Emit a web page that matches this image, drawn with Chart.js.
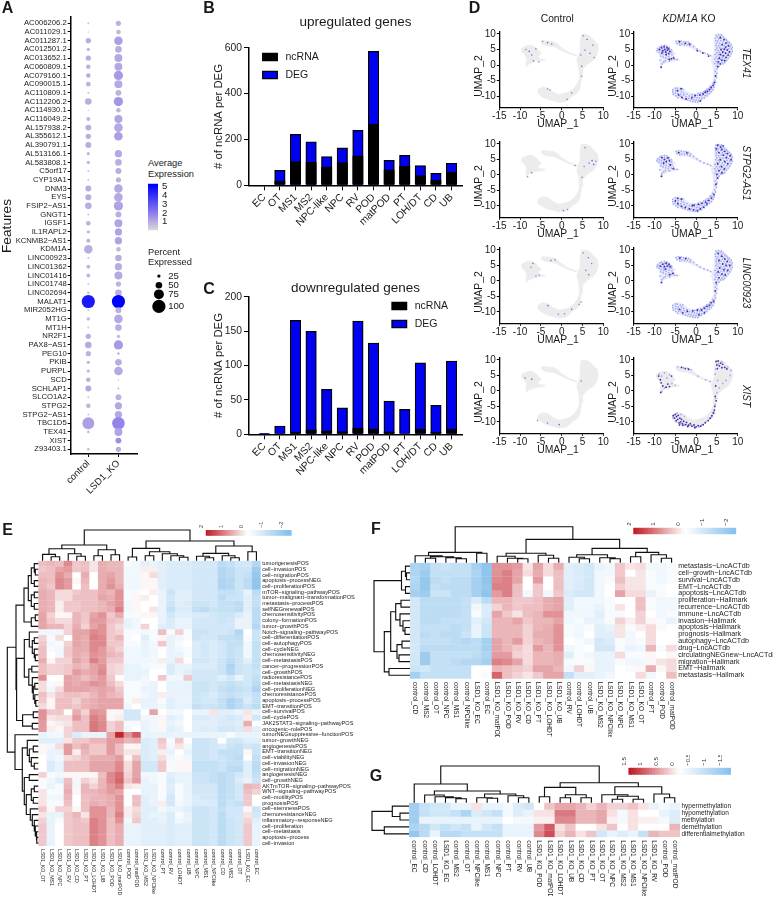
<!DOCTYPE html>
<html>
<head>
<meta charset="utf-8">
<title>KDM1A knockout lncRNA expression panels</title>
<script src="https://cdn.jsdelivr.net/npm/chart.js@4"></script>
<style>
  html, body { margin: 0; padding: 0; background: #fff; }
  #page { position: relative; width: 773px; height: 900px; overflow: hidden; font-family: "Liberation Sans", Arial, sans-serif; color: #1a1a1a; }
  #page canvas { position: absolute; display: block; }
  .lbl { position: absolute; white-space: nowrap; line-height: 1; }
</style>
</head>
<body>
<div id="page"></div>
<script>
// ---------- Panel A: dot plot ----------
const genes = ["AC006206.2","AC011029.1","AC011287.1","AC012501.2","AC013652.1","AC060809.1","AC079160.1","AC090015.1","AC110809.1","AC112206.2","AC114930.1","AC116049.2","AL157938.2","AL355612.1","AL390791.1","AL513166.1","AL583808.1","C5orf17","CYP19A1","DNM3","EYS","FSIP2−AS1","GNGT1","IGSF1","IL1RAPL2","KCNMB2−AS1","KDM1A","LINC00923","LINC01362","LINC01416","LINC01748","LINC02694","MALAT1","MIR2052HG","MT1G","MT1H","NR2F1","PAX8−AS1","PEG10","PKIB","PURPL","SCD","SCHLAP1","SLCO1A2","STPG2","STPG2−AS1","TBC1D5","TEX41","XIST","Z93403.1"];
const dotGroups = ["control","LSD1_KO"];
const controlPct = [15,10,40,25,40,35,35,35,15,50,10,30,45,40,45,25,25,15,15,45,45,50,15,35,25,30,65,15,30,30,15,20,100,15,25,15,40,50,40,25,25,35,45,15,35,15,90,20,5,20];
const koPct = [40,35,65,50,60,60,70,60,45,70,35,60,65,65,5,55,50,45,40,65,65,70,45,60,55,55,35,50,55,60,40,50,100,45,65,50,25,70,20,50,65,10,15,45,55,55,95,60,45,40];
const controlExpr = [.4,.3,.8,.6,.8,.7,.8,.7,.4,.8,.3,.7,.8,.8,.8,.6,.6,.4,.4,.8,.8,.8,.4,.7,.6,.7,.8,.4,.6,.6,.4,.5,4.4,.4,.6,.4,.8,.9,.7,.6,.6,.7,.9,.4,.6,.4,1.1,.5,.3,.5];
const koExpr = [.7,.6,1.1,.8,.9,.9,1.2,.9,.7,1.3,.6,1,.9,1.1,.3,.9,.8,.8,.7,.9,.9,1,.8,1,1,1,.6,.8,.8,.9,.7,.8,5,.8,.9,.8,.6,1.2,.6,.8,.9,.5,.6,.7,.9,.9,1.7,1,1.5,.8];
const sizeLegendPct = [25,50,75,100];
const exprLegendTicks = [1,2,3,4,5];

// ---------- Panels B and C: stacked counts ----------
const cellTypes = ["EC","OT","MS1","MS2","NPC-like","NPC","RV","POD","matPOD","PT","LOH/DT","CD","UB"];
const upDEG   = [0,65,222,190,125,163,240,584,109,131,86,52,96];
const upNcRNA = [0,18,103,100,81,99,129,266,67,84,42,23,58];
const downDEG   = [1.5,12,165.6,149.6,65.4,38.3,164.6,132.7,48.4,36.3,104,42,106.5];
const downNcRNA = [0.5,1,3,6.5,5,4,9,7.5,3.5,1,7.5,3,7.7];

// ---------- Panel D: UMAP cell map, outlines of the clusters ----------
const umapRightArc = [4.7,9.8,5.8,10,6.8,9.3,7.6,8.2,8.6,6.8,8.8,5,8.4,3,7.6,1.5,6.6,.6,5.6,-.5,5,-1.5,5,-3.5,4.7,-4.8,4.6,-5.5,4.4,-7.5,3.7,-9,2.5,-10,1.8,-11,.8,-11.8,-.6,-12,-2,-11.5,-3.5,-11,-5,-10,-5.8,-9,-5.6,-7.6,-4.4,-7,-3.2,-7.4,-2.2,-8.5,-.8,-9.4,.4,-9.2,1.8,-8.6,3,-7.4,3.7,-6,4.2,-4.5,4.2,-2,4,0,3.6,1.5,4,3,4.5,5,4.4,7.5,4.7,9.8];
const umapTopStrand = [-4.8,8,-3.8,7.8,-2,7.6,-1,6.8,.2,5.4,1.6,4.2,3.6,3.2,3.6,2.8,1.4,3.8,-.2,4.8,-1.8,5.9,-3,6,-4.2,6.4,-4.9,7,-4.8,8];
const umapLeftBlob = [-9.6,5.4,-8.5,6.2,-7.2,6.4,-6.2,5.6,-5.5,4.5,-4.9,3.6,-5.8,2.8,-5.2,2,-3.8,1.8,-4.6,1.4,-6,1.2,-7,.8,-8,.2,-8.4,-.6,-8.6,.4,-8.4,2.2,-9,3.6,-9.6,4.2,-9.6,5.4];

// Low-expression KO cells shared by the TEX41, STPG2-AS1 and LINC00923 maps
const koCells = [4.8,9.6,5.4,9.8,6.1,9.7,5.1,9.1,5.8,9.2,6.5,9,4.6,8.7,5.4,8.5,6.1,8.6,6.9,8.4,7.3,8,4.7,7.9,5.2,7.7,5.9,7.9,6.6,7.7,7.6,7.5,8,7.2,4.9,7.1,5.6,7,6.3,7.1,7,6.9,7.7,6.8,8.4,6.6,4.8,6.3,5.4,6.2,6,6.4,6.7,6.2,7.4,6.1,8.1,6,8.7,5.8,5,5.5,5.7,5.6,6.4,5.4,7.1,5.5,7.8,5.3,8.5,5.2,4.7,4.9,5.3,4.7,6,4.8,6.7,4.6,7.4,4.7,8.1,4.5,8.7,4.4,5,4,5.6,4.1,6.3,3.9,7,3.9,7.7,3.7,8.4,3.7,4.6,3.4,5.3,3.3,6,3.2,6.7,3.1,7.4,3,8.1,2.9,4.9,2.6,5.6,2.6,6.3,2.4,7,2.3,7.7,2.2,4.5,2,5.2,1.9,5.9,1.8,6.6,1.6,7.3,1.5,4.8,1.2,5.5,1.1,6.2,1,6.9,.8,4.5,.5,5.2,.4,5.9,.3,6.5,.4,4.9,-.3,5.5,-.4,5,-1.2,4.6,-2,5,-2.6,4.6,-3.4,4.9,-4,4.5,-4.8,4.7,-5.5,
  4.4,-6.2,4,-6,4.3,-7.1,3.8,-6.9,3.4,-6.8,4.1,-7.9,3.6,-7.7,3.1,-7.5,2.6,-7.7,3.7,-8.6,3.2,-8.4,2.7,-8.3,2.2,-8.2,1.8,-8.5,3.2,-9.2,2.7,-9.1,2.2,-9,1.6,-9.1,1.1,-8.9,.5,-9.1,2.6,-9.9,2.1,-9.8,1.5,-9.8,.9,-9.7,.3,-9.7,-.3,-9.5,-.9,-9.5,2,-10.6,1.4,-10.6,.8,-10.5,.2,-10.5,-.4,-10.3,-1,-10.2,-1.6,-9.9,-2.2,-9.3,1.2,-11.2,.6,-11.3,0,-11.2,-.6,-11.1,-1.2,-10.9,-1.8,-10.7,-2.4,-10.2,-2.9,-9.6,-3,-8.9,.4,-11.9,-.2,-11.8,-.8,-11.7,-1.4,-11.5,-2,-11.3,-2.6,-11,-3.2,-10.7,-3.6,-10,-3.7,-9.3,-3.5,-8.5,-3.8,-7.8,-3.2,-7.7,-4.4,-10.5,-4.2,-9.8,-4.4,-9.1,-4.3,-8.4,-4.5,-7.5,-5,-7.4,-4.9,-8.2,-5,-9,-4.9,-9.9,-5.5,-9.4,-5.6,-8.6,-5.6,-7.9,
  -9.4,4.6,-9.2,5.2,-8.7,5.8,-8.8,4.9,-8.9,4.1,-8.3,6.1,-8.2,5.3,-8.3,4.5,-8.4,3.7,-8.5,2.9,-7.6,6.3,-7.6,5.6,-7.7,4.9,-7.8,4.1,-7.8,3.4,-7.9,2.6,-7,6.1,-7,5.4,-7.1,4.6,-7.1,3.9,-7.2,3.1,-7.3,2.3,-6.5,5.7,-6.5,5,-6.4,4.3,-6.5,3.5,-6.6,2.7,-6.7,1.9,-7.4,1.4,-5.9,4.9,-5.9,4.1,-5.8,3.3,-6,2.2,-5.4,2.6,-5.2,1.9,-4.6,1.8,-6.4,1.3,-7.8,1,-8.2,.4,-8.4,-.6,-8.7,1.6,
  -4.8,7.6,-4.2,7.8,-3.6,7.7,-3,7.5,-2.4,7.5,-1.8,7.3,-1.3,6.8,-4.6,6.9,-4,7.1,-3.4,6.8,-2.8,6.6,-2.1,6.6,-3.9,6.4,-1.5,6.2,-.6,6,.2,5.2,1,4.5,1.9,3.9,2.8,3.5,3.5,3];

// Expressing cells per gene and condition
const tex41Ko = [-8.8,5,-8.3,5.6,-8,4.6,-7.7,5.9,-7.5,5,-7.3,4.2,-7,5.6,-6.9,4.8,-6.6,5.2,-6.3,4.4,-6.6,3.7,-7.2,3.4,-8.2,3.9,-5.9,2,-5.4,2.3,-6.4,1.8,-8.4,-.7,-4,7.5,-2.6,7,-1.6,6.7,5.8,8.8,6.7,8.2,7.2,7.1,7.8,6.2,6.3,6.6,7.1,5.8,6,5,6.8,5.1,7.5,4.9,8,4.2,6.4,4.2,7.1,3.8,7.7,3.2,5.8,3.4,6.5,3,7.2,2.5,5.6,2.2,6.2,1.6,6.9,1.4,5.3,1,5.8,.4,5.2,-.5,4.7,-3.5,4.4,-5.6,4.1,-6.5,3.6,-7.2,3.2,-7.9,2.7,-8.5,2.2,-8.7,1.7,-9.3,.9,-9.6,-.2,-9.8,-1,-10.5,-2.4,-10.9,-3.4,-10.4,-4.2,-9.6,-4.5,-8.2,-3.6,-7.6,1,-11.6,3,2.9,1.6,3.9,.3,4.6];
const stpg2Ko = [-8.2,5.6,-7.6,5,-7.2,4.3,-6.8,5.5,-6.4,4.6,-7.8,3.8,-6.2,3.2,-5.5,2,-8.3,-.4,-4.2,7.2,-2.2,7.1,5.2,9.6,5.9,9,6.5,9.4,4.9,8.4,6.2,8.2,6.9,7.6,7.5,6.9,8.2,6.2,5.5,7.2,6.5,6.4,7.3,5.6,8.4,4.9,5.8,4.9,6.9,4.3,7.6,3.6,5.2,3.6,6.1,2.7,6.8,1.9,5.5,1.4,6.2,.7,5,.2,5.2,-1,4.8,-3,4.3,-6.4,3.7,-7.5,3,-8.2,2.3,-8.8,1.4,-9.2,.6,-9.5,-.5,-9.8,1.8,-10.4,1,-11,.3,-11.6,-.6,-11.3,-1.6,-11,-2.6,-10.5,-3.5,-10.2,-4.4,-9.3,-5,-8.4,-4.4,-7.6,-3.5,-7.8,2.6,-9.4,-.9,-9.9];
const linc00923Ko = [-8.6,4.8,-8,5.4,-7.6,4.6,-7.2,5.7,-6.9,4.8,-6.5,5.3,-6.2,4.6,-7.4,3.8,-6.3,2,-5.6,2.4,-8.3,-.5,-3.9,7.4,-2.5,7.2,5.3,8.9,6.2,8,6.9,7.1,5.5,6.6,7.5,6.3,6.4,5.5,7.2,5,8.1,5,5.7,4.2,6.7,3.6,7.6,3.4,5.3,2.9,6.2,2.2,7,1.9,5.5,1,4.8,-.6,4.6,-3.2,4.2,-6.6,3.6,-7.1,3.2,-7.9,2.6,-8.2,2,-8.8,1.3,-9.4,.3,-9.4,-.8,-9.7,-2.1,-9.8,-3.2,-10.3,-4,-9.2,2,-10.3,.7,-10.9];
const xistKo = [-5.5,-8,-5.2,-8.8,-5,-7.6,-4.7,-8.3,-4.4,-9.2,-4.8,-9.6,-4.3,-7.9,-3.9,-8.8,-3.7,-10,-4.1,-10.3,-3.3,-10.6,-3,-9.8,-3.5,-9.2,-2.5,-10.9,-2.3,-10.2,-1.8,-11.1,-1.4,-10.6,-1,-11.4,-.5,-11,0,-11.6,.5,-11.2,1.1,-11.4,1.7,-10.9,2.2,-10.3,2.9,-9.6,3.4,-8.8,3.8,-8,4.2,-7.2,4.4,-6.2,4.5,-5,4.8,-3.2,-4,-11,-3.2,-11.1,-2,-11.5,-.3,-11.9,4.8,9.5,5.3,9.7,5.9,9,5,8.4,5.6,8.1,6.4,8.6,6.9,7.6,7.4,7.1,5.1,7.2,6.2,7.5,-3.5,7.6,-2.6,7.2,-1.8,7,-8.6,3.6,-8.4,2.6,-8,1.6,-7.2,1.2,-6.8,2.2,-6.4,1.4,-8.5,-.5,-5.9,4.8,-9,4.8,4.7,1.6,4.6,-1.8];
const xistKoLow = [-5.4,-7.9,-4.6,-7.2,-3.6,-7.6,-2.8,-8.2,-5.6,-8.6,-4.8,-10,-3.8,-10.6,-2.8,-10.9,-1.2,-11,-.4,-11.5,.7,-11.6,1.4,-11,2.4,-9.9,3.2,-9,3.7,-8.4,4,-7,4.3,-6.6,4.6,-4.4,4.7,-2.4,5,-.6,5.6,1,6.4,2.4,7.2,3.4,8.2,5,8.4,6.6,7.6,7.8,5.4,8.8,6.2,9.4,4.7,7,4.6,5.4,5.2,3.4,-4.4,7.8,-3,7.5,-2,7.3,-1.2,6.8,.4,4.8,2.3,3.6,3.4,3,-8.9,5.4,-8.3,4.8,-7.6,5.8,-7,4.2,-6.4,5.2,-5.8,2.4,-5,1.9,-7.6,.9,-8.2,-.2];
const tex41Control = [-8.6,5,-7.8,4.4,-7.2,3.2,-6.2,5.2,-6.8,1.3,-5.5,1,-4.6,7.6,-3.4,7.2,-2.4,6.8,5.2,9.4,6.1,8.2,7.5,6.4,5.6,4.8,6.8,3.8,4.6,3.2,7.8,2.4,4.8,-.4,-3.4,-7.7,-2.8,-8,1.3,-11,2.4,-9,4.8,-3.6];
const stpg2Control = [5.6,8.8,7.3,4.6,8.2,4.4,6.6,3.8,7.7,3.4,5.4,2.7,-8.2,-.6,-7.2,.7,4.9,-.8,1.4,-11.2,.4,-11.5,3.2,3];
const linc00923Control = [-7.4,4.4,-6.9,5.6,-6.2,1.6,-5.4,1.9,-2.6,6.6,-1.6,6.8,5.2,9,6.4,7.5,7.2,5.6,5.8,3.4,6.5,2,4.7,-6.8,4.2,-7.6,2.4,-9.2,.7,-10.6,-.8,-10.8,-3.3,-8];
const xistControl = [-8.8,4.2,-7.2,3.8,-5.8,-9.6,-3.4,-10.4,-.6,-10.9,4.7,3.2];

// ---------- Panel E: pathway heat map (cell values in twelfths of a z-score) ----------
const eColumns = ["LSD1_KO_OT","LSD1_KO_MS1","LSD1_KO_NPC","LSD1_KO_RV","LSD1_KO_CD","LSD1_KO_PT","LSD1_KO_LOHDT","LSD1_KO_UB","LSD1_KO_POD","LSD1_KO_matPOD","control_POD","control_matPOD","LSD1_KO_MS2","LSD1_KO_NPClike","control_PT","control_RV","control_LOHDT","control_UB","control_NPC","control_MS1","control_NPClike","control_CD","control_MS2","control_OT","LSD1_KO_EC","control_EC"];
const eRows = ["tumorigenesisPOS","cell−invasionPOS","cell−migrationPOS","apoptosis−processNEG","cell−proliferationPOS","mTOR−signaling−pathwayPOS","tumor−malignant−transformationPOS","metastasis−processPOS","selfNEGrenewalPOS","chemosensitivityPOS","colony−formationPOS","tumor−growthPOS","Notch−signaling−pathwayPOS","cell−differentiationPOS","cell−autophagyPOS","cell−cycleNEG","chemosensitivityNEG","cell−metastasisPOS","cancer−progressionPOS","cell−growthPOS","radioresistancePOS","cell−metastasisNEG","cell−proliferationNEG","chemoresistancePOS","apoptosis−processPOS","EMT−transitionPOS","cell−survivalPOS","cell−cyclePOS","JAK2STAT3−signaling−pathwayPOS","oncogenic−rolePOS","tumorNEGsuppressive−functionPOS","tumor−growthNEG","angiogenesisPOS","EMT−transitionNEG","cell−viabilityNEG","cell−invasionNEG","cell−migrationNEG","angiogenesisNEG","cell−growthNEG","AKTmTOR−signaling−pathwayPOS","WNT−signaling−pathwayPOS","cell−motilityPOS","prognosisPOS","cell−stemnessPOS","chemoresistanceNEG","inflammatory−responseNEG","cell−proliferation","cell−metastasis","apoptosis−process","cell−invasion"];
const eCells = [
[7,8,7,13,6,7,3,9,8,8,-1,-2,-4,-3,-4,-5,-5,-5,-6,-6,-6,-9,-8,-6,-6,-10],
[6,7,10,11,6,7,3,9,8,8,-2,-2,2,2,-4,-5,-5,-5,-6,-6,-6,-10,-9,-7,-7,-13],
[7,7,12,9,0,9,0,9,10,8,-2,-2,1,4,-4,-5,-5,-5,-6,-6,-6,-10,-9,-7,-8,-14],
[8,7,13,11,1,8,0,9,11,8,-2,-2,1,1,-4,-5,-5,-5,-6,-6,-6,-11,-10,-7,-9,-15],
[8,6,13,11,0,7,0,9,12,9,-2,-2,1,1,-4,-5,-5,-5,-6,-6,-6,-11,-10,-7,-9,-15],
[9,8,4,4,6,7,7,9,8,12,-1,-1,0,2,-3,-7,-4,-4,-6,-6,-6,-8,-8,-7,-3,-9],
[9,8,4,4,7,7,7,10,9,12,-1,1,2,0,-3,-6,-4,-4,-6,-6,-6,-9,-7,-7,-4,-8],
[9,8,2,6,6,7,7,8,10,12,-2,1,0,0,-3,-7,-4,-5,-7,-7,-6,-8,-8,-9,-4,-8],
[9,8,2,6,6,7,7,8,9,14,-2,1,0,3,-3,-8,-5,-5,-8,-9,-7,-8,-8,-9,-4,-9],
[10,5,1,1,8,6,10,12,6,9,-1,-1,1,1,-3,-6,-4,-4,-5,-5,-6,-7,-7,-5,-3,-9],
[10,6,4,4,8,6,11,11,7,6,-3,-2,0,0,-3,-5,-3,-3,-6,-6,-6,-7,-6,-3,-3,-9],
[10,8,8,5,9,5,10,12,6,4,-3,-2,5,0,-4,-5,-3,-3,-6,-6,-6,-6,-6,-3,-3,-10],
[-2,-2,-2,5,10,10,13,12,6,5,-1,-1,-2,-1,7,-1,5,-1,-7,-7,-6,-6,-7,-10,0,-7],
[5,-1,4,0,10,9,14,13,6,8,-1,0,-4,-1,1,-3,-2,-1,-7,-6,-6,-8,-8,-9,-1,-7],
[6,-2,-1,5,10,9,13,13,6,6,-1,-1,-3,-2,6,-3,-1,0,-5,-6,-5,-6,-8,-8,-2,-8],
[7,-1,-2,6,9,9,13,11,7,5,-2,-2,-3,-2,0,-3,-2,-1,-5,-6,-5,-6,-8,-7,-2,-8],
[7,0,-2,6,9,8,12,11,8,7,-2,-2,-3,-2,0,-3,-3,-1,-5,-6,-5,-6,-8,-7,-2,-8],
[9,1,5,5,10,8,14,11,6,6,-2,-2,-2,-2,2,-3,4,0,-6,-6,-5,-7,-9,-7,-4,-8],
[7,5,5,6,8,7,10,12,5,4,-3,-3,-2,-1,-1,-5,-3,-3,-5,-5,-5,-7,-11,-7,-6,-8],
[7,5,5,6,11,9,10,13,5,4,-3,-3,-3,0,0,-5,-3,-4,-6,-6,-6,-7,-10,-7,-6,-7],
[12,0,0,10,9,7,9,11,6,0,-3,-3,-2,0,6,-2,-2,6,-6,-6,-6,-4,-6,-3,-6,-8],
[4,-1,1,10,9,10,12,11,7,4,-1,-1,-2,-3,0,-3,-3,-3,-7,-7,-6,-7,-8,-7,-6,-9],
[4,-2,4,10,10,10,9,10,9,6,-1,-1,-3,-3,0,-3,-3,-3,-7,-7,-6,-8,-9,-8,-7,-11],
[7,3,6,7,7,6,8,10,8,7,-1,-1,-2,-3,2,-3,-3,-3,-7,-6,-5,-7,-8,-7,-6,-8],
[6,1,7,7,5,8,9,10,10,10,-1,2,-3,-3,-1,-4,-3,-3,-7,-6,-6,-8,-11,-9,-5,-8],
[4,1,7,7,6,8,9,10,10,10,-2,0,-3,-3,-2,-4,-3,-3,-8,-7,-7,-8,-11,-9,-7,-9],
[12,6,6,0,9,5,12,11,1,1,-6,-6,0,10,0,-2,-2,0,-3,-3,3,-4,-4,-3,3,-3],
[12,3,4,4,11,7,14,12,1,2,-6,-6,-2,-2,1,-4,-3,0,-5,-5,-4,-5,-6,-5,2,-6],
[11,1,2,3,7,7,15,13,5,7,-1,-1,-3,-2,1,-3,-2,0,-4,-4,-4,-5,-5,-4,9,0],
[11,2,1,5,7,7,15,13,5,7,-2,0,-3,-2,1,-4,-3,0,-4,-5,-4,-6,-6,-5,4,-4],
[-3,-2,-2,5,-5,-3,-3,-3,10,24,12,18,-3,-3,-3,-3,-3,-3,-3,-3,-3,-3,-1,-3,-3,-3],
[-4,-4,-4,3,6,6,8,8,11,11,8,9,-5,-4,6,-1,6,0,-7,-7,-6,0,-6,-6,-4,-4],
[1,-2,4,11,7,9,6,6,11,7,1,1,-5,-4,5,-2,3,-2,-7,-7,-6,-5,-7,-8,-6,-7],
[1,-3,-3,11,2,8,6,6,11,7,3,3,-5,-4,2,-3,0,-3,-7,-7,-6,-8,-8,-8,1,-7],
[0,-3,-2,4,5,7,9,9,9,11,1,7,-5,-4,4,-2,-1,-2,-7,-7,-6,-7,-8,-9,0,-8],
[0,-5,-3,7,7,7,10,10,10,13,4,10,-6,-6,6,-1,1,1,-8,-8,-8,-7,-8,-8,-4,-9],
[0,-5,-3,7,7,7,10,10,10,13,4,10,-6,-6,6,-1,1,1,-8,-8,-8,-7,-9,-9,-4,-9],
[5,-1,-2,1,1,1,1,7,13,16,5,10,-2,-2,-1,-4,-3,-3,-7,-7,-8,-9,-8,-6,-4,-8],
[-1,-2,-4,7,-2,5,3,8,13,17,6,11,-3,-2,-1,-5,-3,-3,-7,-7,-8,-9,-8,-5,-3,-7],
[-1,-3,-1,8,-2,8,5,8,11,14,3,2,-3,-3,-1,-4,-1,-3,-6,-6,-6,-9,-8,-6,8,7],
[3,-1,-1,9,1,8,8,9,11,10,0,0,-3,-3,-1,-5,-1,-3,-6,-6,-6,-9,-8,-6,7,5],
[3,-2,-2,8,0,7,8,8,9,12,0,7,-4,-3,-1,-6,-1,-3,-5,-6,-6,-9,-8,-6,6,0],
[3,-1,-1,7,0,7,9,8,9,12,0,7,-4,-3,2,-6,-2,-3,-5,-5,-5,-9,-7,-8,6,0],
[6,1,5,5,1,7,12,12,8,12,2,4,-4,-4,-2,-3,-3,-4,-7,-7,-6,-8,-6,-6,1,-7],
[3,-3,-3,6,8,3,12,12,8,14,2,5,-4,-3,-3,-5,-1,-3,-7,-7,-6,-9,-6,-6,3,-6],
[5,-3,-1,6,7,6,14,12,7,12,-2,6,-4,-4,-3,-5,-2,-3,-7,-7,-6,-9,-7,-6,5,-4],
[6,-3,0,6,7,7,14,12,7,9,-3,-3,-4,-4,-4,-5,-4,-4,-7,-7,-6,-9,-7,-6,6,-3],
[6,-3,0,6,7,7,14,12,7,9,-3,-3,-4,-4,-4,-5,-4,-4,-7,-7,-6,-9,-7,-6,6,-3],
[6,-3,0,6,7,7,14,12,7,9,-3,-3,-4,-4,-4,-5,-4,-4,-7,-7,-6,-9,-7,-6,6,-3],
[6,-3,0,6,7,7,14,12,7,9,-3,-3,-4,-4,-4,-5,-4,-4,-7,-7,-6,-9,-7,-6,6,-3]
];
// Dendrograms are nested [height, left, right] nodes, leaves are row or column indices
const eColTree = [30.7,
  [15.7,[12,[6.3,0,[4,1,2]],[7,3,[4.5,4,5]]],[11,[5,6,7],[6,8,9]]],
  [19.7,[12.3,[3.7,10,11],[9,[5,12,13],[7,14,[5,15,[3.5,16,17]]]]],[14.7,[7.3,[4.5,18,[3,19,20]],[5,21,[3,22,23]]],[9,24,25]]]];
const eRowTree = [31,
  [22.3,
    [14.3,[10,[7,[4,0,[3,1,2]],[4,3,4]],[7,[4,5,6],[4,7,8]]],[7,[3,9,10],11]],
    [21.7,[14,[9,12,[6,[4,13,14],[4,15,[3,16,17]]]],[9.5,[6.5,18,19],[6,20,[5,[3.5,21,22],[3.5,23,[2.5,24,25]]]]]],[15.7,[5,26,27],[6,28,29]]]],
  [23.3,30,[16,[11,31,[9,[5,32,33],[7,34,[4,35,36]]]],[14,[9,37,38],[12,[7,[4,39,40],[5,41,42]],[8,43,[6,44,[4,45,[3,46,[2,47,[1.5,48,49]]]]]]]]]]];
const eScaleTicks = [2,1,0,-1,-2];

// ---------- Panel F: lncRNA signature heat map (same cell units as E) ----------
const fColumns = ["control_CD","control_MS2","control_OT","control_NPC","control_MS1","control_NPClike","LSD1_KO_EC","control_EC","LSD1_KO_matPOD","LSD1_KO_POD","LSD1_KO_RV","LSD1_KO_CD","LSD1_KO_PT","LSD1_KO_LOHDT","LSD1_KO_UB","control_RV","control_LOHDT","control_UB","LSD1_KO_MS2","LSD1_KO_NPClike","LSD1_KO_NPC","LSD1_KO_MS1","LSD1_KO_OT","control_PT","control_POD","control_matPOD"];
const fRows = ["metastasis−LncACTdb","cell−growth−LncACTdb","survival−LncACTdb","EMT−LncACTdb","apoptosis−LncACTdb","proliferation−Hallmark","recurrence−LncACTdb","immune−LncACTdb","invasion−Hallmark","apoptosis−Hallmark","prognosis−Hallmark","autophagy−LncACTdb","drug−LncACTdb","circulatingNEGnew−LncACTdb","migration−Hallmark","EMT−Hallmark","metastasis−Hallmark"];
const fCells = [
[-11,-12,-8,-7,-8,-8,-12,-15,12,12,11,3,10,4,9,-4,-5,-6,-3,-2,6,3,4,-2,-2,-1],
[-11,-13,-8,-8,-8,-8,-11,-15,12,14,10,4,9,4,7,-4,-5,-6,-2,-2,6,0,3,-1,-2,-1],
[-10,-14,-9,-8,-9,-9,-12,-15,13,14,10,0,11,0,7,-4,-5,-6,-2,-1,7,3,3,-1,-2,-1],
[-11,-14,-8,-9,-9,-9,-12,-14,14,14,7,0,6,0,7,-4,-5,-6,-2,0,5,3,3,-1,-1,0],
[-12,-13,-7,-7,-9,-9,-12,-15,11,14,7,-2,6,-2,6,-5,-6,-6,-2,0,10,4,4,-3,-1,0],
[-6,-9,-9,-9,-9,-8,-5,-9,8,8,6,6,7,9,10,-4,-2,-2,-2,-1,0,0,7,-1,-2,-2],
[-6,-9,-9,-9,-9,-8,-2,-5,5,8,6,7,7,9,10,-4,-2,-2,-3,-1,3,0,7,-1,-2,-2],
[-6,-9,-9,-9,-9,-8,-1,-5,10,6,3,7,8,12,12,-2,-2,-2,-4,-1,-1,0,5,0,-2,-1],
[-6,-9,-9,-8,-8,-8,-4,-6,8,8,10,6,8,8,10,-2,-1,-3,-3,-1,5,2,5,1,-1,-3],
[-6,-8,-8,-8,-9,-8,-3,-7,8,8,8,5,8,9,12,-1,-2,-1,-4,-3,3,-1,2,4,-1,0],
[-6,-9,-8,-9,-9,-7,-3,-7,8,8,8,5,9,9,12,-1,-2,0,-4,-4,3,-2,0,4,0,0],
[-6,-8,-8,-8,-9,-10,-9,-12,10,8,11,5,8,9,12,0,-1,-2,-6,-5,-1,-2,-1,4,0,0],
[-6,-9,-9,-9,-9,-9,-9,-12,10,8,6,4,11,8,12,-2,-1,0,-6,-6,-1,-3,-2,8,-1,4],
[-6,-13,-8,-8,-8,-8,-9,-11,11,11,5,4,8,8,9,-4,-1,-2,-3,-3,4,-1,-1,1,0,1],
[-6,-13,-8,-8,-9,-10,-10,-12,14,13,10,4,8,8,9,-1,-1,-1,-3,-3,-1,-2,-2,1,3,4],
[-7,-6,-8,-8,-8,-8,0,0,8,7,6,5,10,10,8,-2,5,1,-3,-3,0,-1,1,9,1,4],
[-12,-8,-8,-8,-8,-8,0,-1,17,7,5,3,6,10,10,-8,-4,-4,-3,-2,0,0,4,-2,0,7]
];
const fColTree = [36,
  [10.3,[7,0,[6,[4.5,1,2],[5,3,[4,4,5]]]],[9.5,6,7]],
  [23.3,[9.5,[6.5,8,[4.5,9,[4,10,11]]],[7.5,12,[4.5,13,14]]],[14.3,[8,[5.5,15,[4,16,17]],[5,18,[4,19,20]]],[10.3,[6,21,22],[8,23,[4.5,24,25]]]]]];
const fRowTree = [36,
  [8.5,[4.5,0,[3.5,1,2]],[4.5,3,4]],
  [25.7,[19.3,[14.3,[9,5,6],[10,7,[7,8,[5,9,10]]]],[13,[8,11,12],[11,13,14]]],[21,15,16]]];
const fScaleTicks = [2,1,0,-1,-2];

// ---------- Panel G: methylation heat map (cell values in tenths of a z-score) ----------
const gColumns = ["control_EC","control_CD","control_LOHDT","LSD1_KO_EC","control_MS2","control_OT","control_NPClike","control_MS1","control_NPC","control_PT","control_RV","control_UB","LSD1_KO_POD","LSD1_KO_matPOD","LSD1_KO_LOHDT","LSD1_KO_UB","LSD1_KO_CD","LSD1_KO_PT","LSD1_KO_OT","LSD1_KO_NPC","LSD1_KO_MS2","LSD1_KO_MS1","LSD1_KO_NPClike","LSD1_KO_RV","control_POD","control_matPOD"];
const gRows = ["hypermethylation","hypomethylation","methylation","demethylation","differentialmethylation"];
const gCells = [
[-8,-5,-4,-4,-2,-2,2,-2,-2,-1,-3,-4,0,4,6,6,5,3,5,3,3,4,2,-2,-1,-2],
[-8,-5,-4,-4,-5,-7,-3,-4,-5,-1,-3,-2,2,2,9,9,5,5,6,2,-1,2,0,0,-2,-3],
[-8,-2,-2,-2,-2,-2,-2,-2,-2,0,-1,-1,1,1,8,8,5,5,6,1,-1,2,1,1,-1,-3],
[-7,-6,-4,-5,-4,-5,-2,-4,-5,-2,-2,-2,7,11,2,4,0,0,2,4,0,2,0,0,0,5],
[-9,-6,-2,-6,-6,-5,-5,-5,-5,-2,-2,-2,8,12,3,5,2,4,-4,-2,-3,-2,-5,5,4,4]
];
const gColTree = [36.7,
  [18.7,0,[11.7,[7.7,1,[6,2,[5,3,[4,4,5]]]],[8.7,[5,6,[4.5,7,8]],[7,9,[5,10,11]]]]],
  [20,[15.3,[6,12,13],[8,[5,14,15],[5,16,17]]],[16,[8,18,[6.5,[3.5,19,20],[3.5,21,22]]],[8.7,23,[5,24,25]]]]];
const gRowTree = [37,[16.7,0,[9,1,2]],[24.7,3,4]];
const gScaleTicks = [1.5,1,.5,0,-.5,-1,-1.5];

// ---------- Shared drawing helpers ----------
const page = document.getElementById('page');
const FONT = '"Liberation Sans", Arial, sans-serif';
Chart.defaults.font.family = FONT;
Chart.defaults.color = '#1a1a1a';
Chart.defaults.animation = false;
Chart.defaults.plugins.legend.display = false;
Chart.defaults.plugins.tooltip.enabled = false;

function label(text, x, y, o = {}) {
  const el = document.createElement('div');
  el.className = 'lbl';
  el.innerHTML = text;
  el.style.left = x + 'px';
  el.style.top = y + 'px';
  el.style.fontSize = (o.size || 10) + 'px';
  if (o.bold) el.style.fontWeight = 'bold';
  if (o.italic) el.style.fontStyle = 'italic';
  const tx = o.anchor === 'left' ? '0' : '-50%';
  el.style.transform = `translate(${tx},-50%)` + (o.rot ? ` rotate(${o.rot}deg)` : '');
  page.appendChild(el);
}

// Places a chart so that its plot area lands on the given rectangle; margins hold the axes.
function mount(rect, margin, cfg, titleY) {
  const left = Math.floor(rect.x0 - (margin.l || 0));
  const top = Math.floor(rect.y0 - (margin.t || 0));
  const width = Math.ceil(rect.x1 + (margin.r || 0) - left);
  const height = Math.ceil(rect.y1 + (margin.b || 0) - top);
  const m = { left: rect.x0 - left, top: rect.y0 - top, right: left + width - rect.x1, bottom: top + height - rect.y1 };
  const canvas = document.createElement('canvas');
  canvas.width = width;
  canvas.height = height;
  canvas.style.left = left + 'px';
  canvas.style.top = top + 'px';
  page.appendChild(canvas);
  const opts = cfg.options = cfg.options || {};
  opts.responsive = false;
  opts.maintainAspectRatio = false;
  opts.devicePixelRatio = 1;
  const pad = { ...m };
  for (const [id, s] of Object.entries(opts.scales || {})) {
    if (s.display === false) continue;
    const side = s.position || (id[0] === 'x' ? 'bottom' : 'left');
    pad[side] = 0;
    s.afterFit = ax => { if (side === 'left' || side === 'right') ax.width = m[side]; else ax.height = m[side]; };
  }
  const title = opts.plugins && opts.plugins.title;
  if (title && title.display) {
    const lineH = title.font.size * 1.2;
    const pt = titleY - top - lineH / 2;
    title.padding = { top: pt, bottom: m.top - lineH - pt };
    title.fullSize = false;
    pad.top = 0;
  }
  opts.layout = { padding: pad };
  cfg.origin = { left, top };
  return new Chart(canvas, cfg);
}

const axisLine = (w = 1.4) => ({ color: '#000', width: w });
const axisGrid = (len = 4) => ({ drawOnChartArea: false, color: '#000', tickLength: len, lineWidth: 1 });
const noGrid = { display: false, drawTicks: false };
const pairs = flat => { const out = []; for (let i = 0; i < flat.length; i += 2) out.push({ x: flat[i], y: flat[i + 1] }); return out; };
const mixColor = (a, b, t) => `rgb(${a.map((c, i) => Math.round(c + (b[i] - c) * t)).join(',')})`;

// ---------- Panel A ----------
const PCT_TO_RADIUS = 0.066;
function exprColor(v) {
  return v <= 1.25 ? mixColor([214, 214, 214], [168, 150, 232], v / 1.25)
                   : mixColor([168, 150, 232], [0, 0, 255], (v - 1.25) / 3.75);
}
const dotData = (pct, x) => genes.map((g, i) => ({ x, y: i, r: pct[i] * PCT_TO_RADIUS }));
mount({ x0: 70.7, x1: 140, y0: 14, y1: 454 }, { l: 70.7, r: 4, t: 4, b: 46 }, {
  type: 'bubble',
  data: { datasets: [
    { label: dotGroups[0], data: dotData(controlPct, 0), backgroundColor: controlExpr.map(exprColor), borderWidth: 0 },
    { label: dotGroups[1], data: dotData(koPct, 1), backgroundColor: koExpr.map(exprColor), borderWidth: 0 }
  ] },
  options: { scales: {
    x: { type: 'linear', min: -0.585, max: 1.63, border: axisLine(1.5), grid: axisGrid(3),
      afterBuildTicks: s => { s.ticks = dotGroups.map((_, i) => ({ value: i })); },
      ticks: { autoSkip: false, minRotation: 45, maxRotation: 45, padding: 1, font: { size: 9.5 }, callback: v => dotGroups[v] } },
    y: { type: 'linear', reverse: true, min: -0.77, max: 49.54, border: axisLine(1.5), grid: axisGrid(3),
      afterBuildTicks: s => { s.ticks = genes.map((_, i) => ({ value: i })); },
      ticks: { autoSkip: false, padding: 1, font: { size: 7.7 }, color: '#222', callback: v => genes[v] } }
  } }
});
label('Features', 7, 226, { size: 13.7, rot: -90 });
label('Average', 148, 164, { size: 9.3, anchor: 'left' });
label('Expression', 148, 175, { size: 9.3, anchor: 'left' });
label('Percent', 148, 252.7, { size: 9.3, anchor: 'left' });
label('Expressed', 148, 263.3, { size: 9.3, anchor: 'left' });

const exprSteps = [];
for (let v = 0; v < 5.3; v += 0.2) exprSteps.push(v);
mount({ x0: 148, x1: 158, y0: 182, y1: 232 }, { r: 16, t: 8, b: 8 }, {
  type: 'bar',
  data: { labels: ['expr'], datasets: exprSteps.map(v => ({ data: [[v, v + 0.22]], backgroundColor: exprColor(v), barPercentage: 1, categoryPercentage: 1, grouped: false })) },
  options: { scales: {
    x: { display: false },
    y: { position: 'right', min: 0.05, max: 5.3, border: { display: false }, grid: noGrid,
      afterBuildTicks: s => { s.ticks = exprLegendTicks.map(v => ({ value: v })); },
      ticks: { autoSkip: false, padding: 4, font: { size: 9.6 }, callback: v => v } }
  } }
});

// Legend keys stack by their radii with a gap and a minimum row pitch
const sizeSlots = [];
sizeLegendPct.reduce((y, p, i) => {
  const r = p * PCT_TO_RADIUS;
  const next = i ? y + Math.max(10.3, sizeLegendPct[i - 1] * PCT_TO_RADIUS + r + 2) : 6;
  sizeSlots.push(next);
  return next;
}, 0);
mount({ x0: 148.2, x1: 163.2, y0: 268, y1: 317 }, { r: 20, t: 8, b: 8 }, {
  type: 'bubble',
  data: { datasets: [{ data: sizeLegendPct.map((p, i) => ({ x: 0, y: sizeSlots[i], r: p * PCT_TO_RADIUS })), backgroundColor: '#000', borderWidth: 0, clip: false }] },
  options: { scales: {
    x: { display: false, type: 'linear', min: -1, max: 1 },
    y: { position: 'right', type: 'linear', reverse: true, min: 0, max: 49, border: { display: false }, grid: noGrid,
      afterBuildTicks: s => { s.ticks = sizeSlots.map(v => ({ value: v })); },
      ticks: { autoSkip: false, padding: 5, font: { size: 9.6 }, callback: (v, i) => sizeLegendPct[i] } }
  } }
});

// ---------- Panels B and C ----------
const BAR_BLUE = '#0000f2';
function countChart(rect, title, titleY, deg, nc, yMax, step, legendX, legendY) {
  const cfg = {
    type: 'bar',
    data: { datasets: [
      { label: 'ncRNA', order: 1, data: cellTypes.map((c, i) => ({ x: i, y: nc[i] })), backgroundColor: '#000', borderColor: '#000', borderWidth: 1.3, barThickness: 10.5, grouped: false },
      { label: 'DEG', order: 2, data: cellTypes.map((c, i) => ({ x: i, y: deg[i] })), backgroundColor: BAR_BLUE, borderColor: '#000', borderWidth: 1.3, barThickness: 10.5, grouped: false }
    ] },
    options: {
      plugins: {
        title: { display: true, text: title, color: '#1a1a1a', font: { size: 13.5, weight: 'normal' } },
        legend: { display: true, position: 'chartArea', align: 'start',
          labels: { boxWidth: 14.6, boxHeight: 7.4, padding: 7.5, font: { size: 10.5 }, color: '#1a1a1a',
            generateLabels: ch => Chart.defaults.plugins.legend.labels.generateLabels(ch).map(it => ({ ...it, text: ' ' + it.text })) } }
      },
      scales: {
        x: { type: 'linear', offset: false, min: -0.98, max: 12.67, border: axisLine(1.5), grid: { ...axisGrid(5), offset: false },
          afterBuildTicks: s => { s.ticks = cellTypes.map((_, i) => ({ value: i })); },
          ticks: { autoSkip: false, minRotation: 45, maxRotation: 45, padding: 1, font: { size: 10.3 }, callback: v => cellTypes[v] } },
        y: { min: 0, max: yMax, border: axisLine(1.5), grid: axisGrid(5),
          ticks: { stepSize: step, padding: 2, font: { size: 10.3 } },
          title: { display: true, text: '# of ncRNA per DEG', font: { size: 11.3 }, padding: { top: 2, bottom: 0 } } }
      }
    },
    plugins: [{
      id: 'legendAnchor',
      afterUpdate(ch) {
        const lg = ch.legend, p = ch.options.plugins.legend.labels.padding;
        lg.left = legendX - cfg.origin.left - p;
        lg.top = legendY - cfg.origin.top - p - 5.25;
        lg.right = lg.left + 100;
        lg.bottom = lg.top + 100;
      }
    }]
  };
  mount(rect, { l: 39, r: 10, t: rect.y0 - titleY + 12, b: 50 }, cfg, titleY);
}
countChart({ x0: 249, x1: 462, y0: 47.7, y1: 185.3 }, 'upregulated genes', 22.7, upDEG, upNcRNA, 600, 200, 262.7, 57);
countChart({ x0: 249, x1: 462, y0: 296.7, y1: 434.3 }, 'downregulated genes', 288.3, downDEG, downNcRNA, 200, 50, 392, 306);

// ---------- Panel D ----------
const DARK_DOTS = ['#47229e', '#3f30c8', '#52249f'];
const CONTROL_DOTS = ['#7b8af0', '#8a5fd0', '#6f8cf5'];
function umapChart(x0, y10, base, low, hits, hitColors, hitRadius) {
  const rect = { x0, x1: x0 + 104, y0: y10 - 2, y1: y10 + 75 };
  const outline = flat => ({ data: pairs(flat), showLine: true, fill: 'shape', order: 3, pointRadius: 0, borderWidth: 0.6, borderColor: base, backgroundColor: base });
  const sets = [outline(umapRightArc), outline(umapTopStrand), outline(umapLeftBlob)];
  if (low) sets.push({ data: pairs(low), order: 2, pointRadius: 0.85, pointBorderWidth: 0, pointBackgroundColor: '#9ea9ee' });
  sets.push({ data: pairs(hits), order: 1, pointRadius: hitRadius, pointBorderWidth: 0, pointBackgroundColor: hits.filter((_, i) => i % 2 === 0).map((_, i) => hitColors[i % 3]) });
  mount(rect, { l: 22, r: 6, t: 5, b: 14 }, {
    type: 'scatter',
    data: { datasets: sets },
    options: { scales: {
      x: { type: 'linear', min: -15, max: 10, border: axisLine(1.3), grid: axisGrid(2.5),
        afterBuildTicks: s => { s.ticks = [-15, -10, -5, 0, 5, 10].map(v => ({ value: v })); },
        ticks: { autoSkip: false, maxRotation: 0, padding: 0, font: { size: 10 }, callback: v => String(v) } },
      y: { type: 'linear', min: -13.7, max: 10.63, border: axisLine(1.3), grid: axisGrid(2.5),
        afterBuildTicks: s => { s.ticks = [-10, -5, 0, 5, 10].map(v => ({ value: v })); },
        ticks: { autoSkip: false, padding: 1, font: { size: 10 }, callback: v => String(v) } }
    } }
  });
  label('UMAP_1', x0 + 58.7, y10 + 91.3, { size: 10.4 });
  label('UMAP_2', x0 - 20.3, y10 + 43.3, { size: 10.4, rot: -90 });
}
const CONTROL_X = 499.3, KO_X = 633.7;
const umapRows = [
  { y10: 32.7, name: 'TEX41', labelY: 63, control: tex41Control, ko: tex41Ko, low: koCells, base: '#e8eafa' },
  { y10: 142.3, name: 'STPG2-AS1', labelY: 172.7, control: stpg2Control, ko: stpg2Ko, low: koCells, base: '#e8eafa' },
  { y10: 248.3, name: 'LINC00923', labelY: 283, control: linc00923Control, ko: linc00923Ko, low: koCells, base: '#e8eafa' },
  { y10: 358.3, name: 'XIST', labelY: 396, control: xistControl, ko: xistKo, low: xistKoLow, base: '#ebebeb' }
];
umapRows.forEach(r => {
  umapChart(CONTROL_X, r.y10, '#ececec', null, r.control, CONTROL_DOTS, 0.8);
  umapChart(KO_X, r.y10, r.base, r.low, r.ko, DARK_DOTS, 0.9);
  label(r.name, 745.7, r.labelY, { size: 10, italic: true, rot: 90 });
});
label('Control', 557.3, 19.3, { size: 10.3 });
label('<i>KDM1A</i> KO', 689, 19.3, { size: 10.3 });

// ---------- Panels E, F, G: heat maps built from stacked cells ----------
function heatColor(v, redLimit, blueLimit) {
  return v >= 0 ? mixColor([255, 255, 255], [190, 26, 36], Math.min(v / redLimit, 1))
                : mixColor([255, 255, 255], [138, 194, 236], Math.min(-v / blueLimit, 1));
}
function heatmap(rect, cells, rows, cols, unit, redLimit, blueLimit, rowFont, colFont, rightMargin, bottomMargin) {
  mount(rect, { r: rightMargin, b: bottomMargin, t: 6 }, {
    type: 'bar',
    data: { labels: cols, datasets: cells.map((row, r) => ({
      data: row.map(() => [r - 0.03, r + 1.03]),
      backgroundColor: row.map(v => heatColor(v / unit, redLimit, blueLimit)),
      grouped: false, barPercentage: 1.05, categoryPercentage: 1
    })) },
    options: { scales: {
      x: { display: false },
      y: { position: 'right', reverse: true, min: 0, max: rows.length, border: { display: false }, grid: noGrid,
        afterBuildTicks: s => { s.ticks = rows.map((_, i) => ({ value: i + 0.5 })); },
        ticks: { autoSkip: false, padding: 1.5, font: { size: rowFont }, color: '#222', callback: v => rows[Math.floor(v)] } }
    } },
    plugins: [{
      id: 'columnLabels',
      afterDraw(ch) {
        const { ctx, chartArea, scales } = ch;
        ctx.save();
        ctx.font = `${colFont}px ${FONT}`;
        ctx.fillStyle = '#222';
        ctx.textAlign = 'left';
        ctx.textBaseline = 'middle';
        ch.data.labels.forEach((text, i) => {
          ctx.save();
          ctx.translate(scales.x.getPixelForValue(i), chartArea.bottom + 3);
          ctx.rotate(Math.PI / 2);
          ctx.fillText(text, 0, 0);
          ctx.restore();
        });
        ctx.restore();
      }
    }]
  });
}
function treePath(node, horizontal, out) {
  if (typeof node === 'number') return { at: node + 0.5, h: 0 };
  const [h, a, b] = node;
  const l = treePath(a, horizontal, out), r = treePath(b, horizontal, out);
  const pts = [[l.at, l.h], [l.at, h], [r.at, h], [r.at, r.h]];
  pts.forEach(([p, q]) => out.push(horizontal ? { x: q, y: p } : { x: p, y: q }));
  out.push({ x: NaN, y: NaN });
  return { at: (l.at + r.at) / 2, h };
}
function dendrogram(tree, count, rect, horizontal) {
  const pathPts = [];
  treePath(tree, horizontal, pathPts);
  const top = tree[0];
  const box = horizontal
    ? { x0: rect.x0 - top, x1: rect.x0, y0: rect.y0, y1: rect.y1 }
    : { x0: rect.x0, x1: rect.x1, y0: rect.y0 - top, y1: rect.y0 };
  mount(box, { l: 1, r: 1, t: 1, b: 1 }, {
    type: 'scatter',
    data: { datasets: [{ data: pathPts, showLine: true, pointRadius: 0, borderColor: '#111', borderWidth: 1.15, clip: false, spanGaps: false }] },
    options: { scales: horizontal
      ? { x: { display: false, type: 'linear', reverse: true, min: 0, max: top }, y: { display: false, type: 'linear', reverse: true, min: 0, max: count } }
      : { x: { display: false, type: 'linear', min: 0, max: count }, y: { display: false, type: 'linear', min: 0, max: top } } }
  });
}
function heatScale(rect, top, ticks, redLimit, blueLimit, labelSize) {
  const lo = Math.min(rect.lo, rect.hi), hi = Math.max(rect.lo, rect.hi);
  const steps = [];
  for (let v = lo; v < hi; v += (hi - lo) / 34) steps.push(v);
  mount(rect, { t: top, r: 6, l: 6 }, {
    type: 'bar',
    data: { labels: ['scale'], datasets: steps.map(v => ({
      data: [[v, v + (hi - lo) / 32]], backgroundColor: heatColor(v + (hi - lo) / 68, redLimit, blueLimit),
      grouped: false, barPercentage: 1, categoryPercentage: 1
    })) },
    options: { indexAxis: 'y', scales: {
      y: { display: false },
      x: { position: 'top', type: 'linear', reverse: true, min: lo, max: hi, border: { display: false }, grid: noGrid,
        afterBuildTicks: s => { s.ticks = ticks.map(v => ({ value: v })); },
        ticks: { autoSkip: false, minRotation: 90, maxRotation: 90, padding: 2, font: { size: labelSize }, color: '#333',
          callback: v => String(v).replace('-', '−') } }
    } }
  });
}

const eRect = { x0: 38.3, x1: 260.7, y0: 560.7, y1: 846 };
heatmap(eRect, eCells, eRows, eColumns, 12, 2.1, 1.3, 5.6, 5.2, 110, 50);
dendrogram(eColTree, eColumns.length, eRect, false);
dendrogram(eRowTree, eRows.length, eRect, true);
heatScale({ x0: 205.7, x1: 291.7, y0: 530, y1: 535.7, lo: 2.12, hi: -2.18 }, 11, eScaleTicks, 2.1, 2, 5.5);

const fRect = { x0: 410, x1: 676.7, y0: 562.7, y1: 678.7 };
heatmap(fRect, fCells, fRows, fColumns, 12, 2.1, 1.3, 7.1, 6.5, 96.3, 58);
dendrogram(fColTree, fColumns.length, fRect, false);
dendrogram(fRowTree, fRows.length, fRect, true);
heatScale({ x0: 633.3, x1: 736.3, y0: 527.7, y1: 534.3, lo: 2.14, hi: -2.1 }, 12, fScaleTicks, 2.1, 2, 6.2);

const gRect = { x0: 409, x1: 680, y0: 802.7, y1: 837.3 };
heatmap(gRect, gCells, gRows, gColumns, 10, 1.55, 1, 6.5, 6.5, 90, 58);
dendrogram(gColTree, gColumns.length, gRect, false);
dendrogram(gRowTree, gRows.length, gRect, true);
heatScale({ x0: 628.3, x1: 731, y0: 767.7, y1: 774.7, lo: 1.6, hi: -1.6 }, 12, gScaleTicks, 1.55, 1.55, 6.2);

// ---------- Panel letters ----------
[['A', 7.5, 8], ['B', 209, 8], ['C', 209, 289], ['D', 474.5, 8], ['E', 7.5, 529.5], ['F', 376, 529], ['G', 376, 776]]
  .forEach(([t, x, y]) => label(t, x, y, { size: 16, bold: true }));
</script>
</body>
</html>
